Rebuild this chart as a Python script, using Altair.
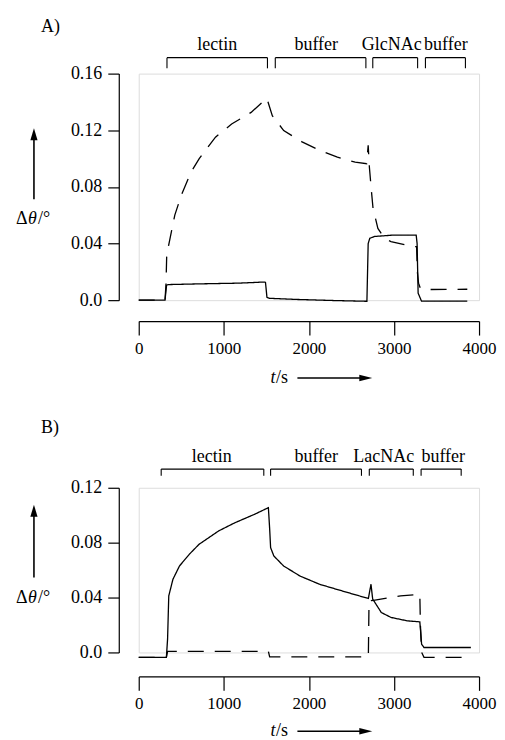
import altair as alt
import pandas as pd

FONT = "Liberation Serif, Times New Roman, Times, serif"

# ---------------- data ----------------
T_TICKS = [0, 1000, 2000, 3000, 4000]
A_Y_TICKS = [0.0, 0.04, 0.08, 0.12, 0.16]
B_Y_TICKS = [0.0, 0.04, 0.08, 0.12]

# Panel A (GlcNAc)
a_solid_t = [0, 309, 327, 344, 711, 1169, 1475, 1490, 1507, 1536, 1857, 2315, 2682, 2697,
             2716, 2774, 3003, 3261, 3272, 3284, 3324, 3862]
a_solid_v = [0.0, 0.0, 0.0105, 0.011, 0.0115, 0.012, 0.0128, 0.0125, 0.002, 0.0013, 0.0005,
             -0.0003, -0.0008, 0.040, 0.0437, 0.045, 0.046, 0.046, 0.040, 0.005, -0.0007, -0.0007]
a_dash_t = [0, 309, 321, 329, 424, 501, 615, 711, 902, 1092, 1321, 1505, 1570, 1704, 1914,
            2124, 2335, 2544, 2679, 2697, 2711, 2716, 2736, 2754, 2811, 2888, 2965, 3209,
            3266, 3275, 3289, 3309, 3347, 3862]
a_dash_v = [0.0, 0.0, 0.012, 0.0321, 0.0601, 0.0742, 0.0905, 0.0999, 0.1151, 0.1244, 0.1326,
            0.1427, 0.1303, 0.1198, 0.112, 0.1058, 0.101, 0.0975, 0.0964, 0.1093, 0.094,
            0.0905, 0.0765, 0.0648, 0.0507, 0.0437, 0.0414, 0.0379, 0.0378, 0.02, 0.012,
            0.0086, 0.0075, 0.0077]
a_brk_start = [332, 1605, 2751, 3370]
a_brk_end = [1513, 2670, 3278, 3840]
a_brk_label = ["lectin", "buffer", "GlcNAc", "buffer"]
a_brk_label_t = [923, 2086, 2974, 3610]

# Panel B (LacNAc)
b_solid_t = [0, 325, 339, 353, 402, 479, 594, 709, 938, 1130, 1359, 1524, 1539, 1550, 1588,
             1703, 1895, 2124, 2392, 2699, 2730, 2750, 2776, 2851, 2966, 3158, 3304, 3311,
             3325, 3353, 3904]
b_solid_v = [-0.0036, -0.0036, 0.0097, 0.0412, 0.0533, 0.063, 0.0715, 0.0788, 0.0885, 0.0945,
             0.1006, 0.1055, 0.09, 0.0764, 0.0703, 0.063, 0.0557, 0.0497, 0.0448, 0.0393,
             0.0497, 0.0388, 0.0364, 0.0291, 0.0255, 0.023, 0.0223, 0.017, 0.006, 0.0036, 0.0036]
b_dash_t = [0, 325, 339, 1524, 1539, 2699, 2707, 2760, 3078, 3304, 3311, 3325, 3353, 3904]
b_dash_v = [-0.0036, -0.0036, 0.0007, 0.0007, -0.0032, -0.0032, 0.0375, 0.038, 0.0412,
            0.0424, 0.02, 0.0, -0.0036, -0.0036]
b_brk_start = [264, 1550, 2710, 3319]
b_brk_end = [1470, 2618, 3227, 3790]
b_brk_label = ["lectin", "buffer", "LacNAc", "buffer"]
b_brk_label_t = [858, 2086, 2880, 3579]

# ---------------- helpers ----------------
ONE = pd.DataFrame({"k": [0]})
PANEL_W = 341


def txt(s, x, y, italic=False, size=18, align="left"):
    return alt.Chart(ONE).mark_text(
        text=s, font=FONT, fontSize=size, align=align, baseline="middle", color="black",
        fontStyle="italic" if italic else "normal",
    ).encode(x=alt.value(x), y=alt.value(y))


def panel(tag, st, sv, dt, dv, ymax, yticks, height, bs, be, bl, blt, g):
    df = pd.concat([
        pd.DataFrame({"t": st, "v": sv, "s": "solid", "o": list(range(len(st)))}),
        pd.DataFrame({"t": dt, "v": dv, "s": "dashed", "o": list(range(len(dt)))}),
    ], ignore_index=True)
    xs = alt.Scale(domain=[0, 4000], nice=False)
    ys = alt.Scale(domain=[0, ymax], nice=False, zero=False)
    xaxis = alt.Axis(
        values=T_TICKS, format="d", offset=g["xoff"], tickSize=14, labelPadding=5,
        labelFont=FONT, labelFontSize=17, labelColor="black", labelFlush=False,
        domainColor="black", tickColor="black", domainWidth=1.2, tickWidth=1.2,
        grid=False, title=None)
    lines = alt.Chart(df).mark_line(color="black", strokeWidth=1.3).encode(
        x=alt.X("t:Q", scale=xs, axis=xaxis),
        y=alt.Y("v:Q", scale=ys, axis=alt.Axis(
            values=yticks, offset=g["yoff"], tickSize=11, labelPadding=6,
            labelExpr="datum.value == 0 ? '0.0' : format(datum.value, '.2f')",
            labelFont=FONT, labelFontSize=18, labelColor="black",
            domainColor="black", tickColor="black", domainWidth=1.2, tickWidth=1.2,
            grid=False, title=None)),
        strokeDash=alt.StrokeDash("s:N", scale=alt.Scale(
            domain=["solid", "dashed"], range=[[1, 0], [16, 11]]), legend=None),
        order="o:Q",
    )
    bdf = pd.DataFrame({"start": bs, "end": be, "label": bl, "lt": blt})
    base = alt.Chart(bdf)
    btop = base.mark_rule(color="black", strokeWidth=1.1).encode(
        x=alt.X("start:Q", scale=xs, axis=xaxis), x2="end:Q", y=alt.value(g["btop"]))
    bl1 = base.mark_rule(color="black", strokeWidth=1.1).encode(
        x=alt.X("start:Q", scale=xs, axis=xaxis), y=alt.value(g["btop"]), y2=alt.value(g["bbot"]))
    bl2 = base.mark_rule(color="black", strokeWidth=1.1).encode(
        x=alt.X("end:Q", scale=xs, axis=xaxis), y=alt.value(g["btop"]), y2=alt.value(g["bbot"]))
    blab = base.mark_text(font=FONT, fontSize=18, baseline="middle", color="black").encode(
        x=alt.X("lt:Q", scale=xs, axis=xaxis), y=alt.value(g["blab"]), text="label:N")

    ax = g["arrow_x"]
    yarrow = alt.Chart(ONE).mark_rule(color="black", strokeWidth=1.6).encode(
        x=alt.value(ax), y=alt.value(g["arrow_tip"] + 6), y2=alt.value(g["arrow_bot"]))
    yhead = alt.Chart(ONE).mark_point(
        shape="M0,-1L0.6,1L-0.6,1Z", filled=True, size=144, color="black", opacity=1,
        strokeWidth=0).encode(x=alt.value(ax), y=alt.value(g["arrow_tip"] + 6))
    xa0, xa1, xy = g["xarrow"]
    xarrow = alt.Chart(ONE).mark_rule(color="black", strokeWidth=1.3).encode(
        x=alt.value(xa0), x2=alt.value(xa1 - 6), y=alt.value(xy))
    xhead = alt.Chart(ONE).mark_point(
        shape="M1,0L-1,-0.5L-1,0.5Z", filled=True, size=169, color="black", opacity=1,
        strokeWidth=0).encode(x=alt.value(xa1 - 6.5), y=alt.value(xy))

    tx = g["ytitle_x"]
    parts = [
        lines, btop, bl1, bl2, blab, yarrow, yhead, xarrow, xhead,
        txt(tag, g["tag_x"], g["tag_y"]),
        txt("\u0394", tx, g["ytitle_y"]),
        txt("\u03b8", tx + 12, g["ytitle_y"], italic=True),
        txt("/\u00b0", tx + 22, g["ytitle_y"]),
        txt("t", g["xtitle_x"], xy, italic=True),
        txt("/s", g["xtitle_x"] + 5.5, xy),
    ]
    return alt.layer(*parts).properties(width=PANEL_W, height=height)


geoA = dict(xoff=21, yoff=20, btop=-16, bbot=-5.3, blab=-28.7, tag_x=-98, tag_y=-47,
            ytitle_x=-123, ytitle_y=146, arrow_x=-105, arrow_tip=54.7, arrow_bot=126,
            xtitle_x=132, xarrow=(159, 234, 305))
geoB = dict(xoff=24, yoff=20, btop=-18.7, bbot=-12, blab=-31.3, tag_x=-98, tag_y=-59.7,
            ytitle_x=-123, ytitle_y=110, arrow_x=-105, arrow_tip=17, arrow_bot=90,
            xtitle_x=132, xarrow=(159, 234, 244))

pA = panel("A)", a_solid_t, a_solid_v, a_dash_t, a_dash_v, 0.16, A_Y_TICKS, 227,
           a_brk_start, a_brk_end, a_brk_label, a_brk_label_t, geoA)
pB = panel("B)", b_solid_t, b_solid_v, b_dash_t, b_dash_v, 0.12, B_Y_TICKS, 165,
           b_brk_start, b_brk_end, b_brk_label, b_brk_label_t, geoB)

chart = alt.vconcat(pA, pB, spacing=30).properties(
    padding={"left": 7, "top": 8, "right": 0, "bottom": 0}
).configure_view(stroke=None).configure(background="white")

chart.save("out.html", embed_options={"renderer": "svg", "actions": False})
